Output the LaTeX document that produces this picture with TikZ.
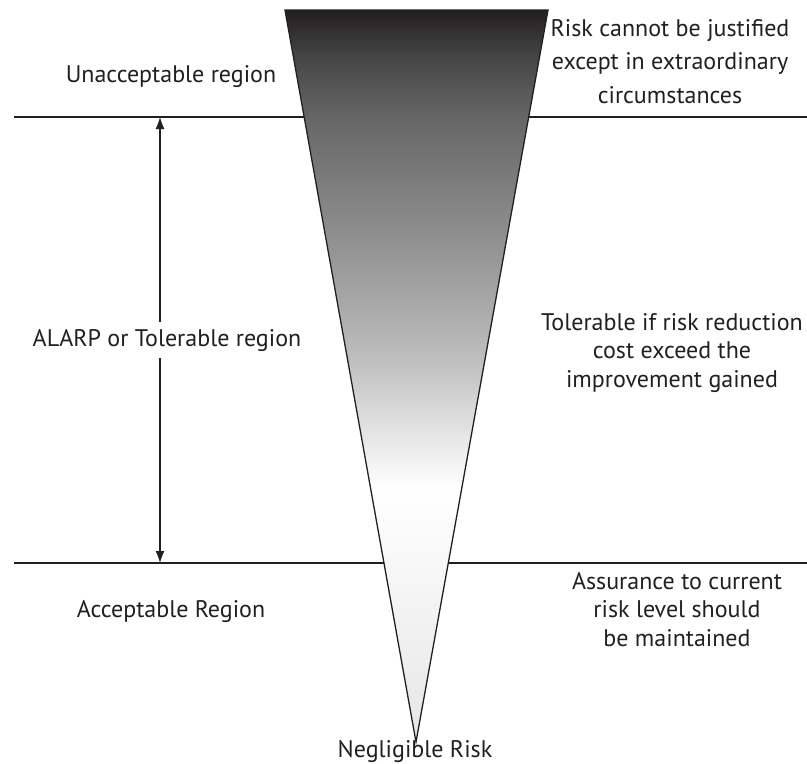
\documentclass[tikz,border=0pt]{standalone}
\usepackage{fontspec}
\setmainfont{PT Sans}
\usetikzlibrary{arrows.meta}

\definecolor{ink}{HTML}{231F20}

% vertical grey ramp for the risk wedge: light tip (25bp) up to dark top (75bp)
\pgfdeclareverticalshading{riskramp}{100bp}{%
  color(0bp)=(white!90!black);
  color(25bp)=(white!90!black);
  color(42.21bp)=(white);
  color(46.31bp)=(white!89!black);
  color(51.78bp)=(white!73!black);
  color(58.61bp)=(white!58!black);
  color(67.69bp)=(white!40!black);
  color(71.58bp)=(white!28!black);
  color(75bp)=(ink);
  color(100bp)=(ink)}

\begin{document}
\begin{tikzpicture}[x=1pt,y=-1pt,
  txt/.style={text=ink,inner sep=0pt,align=center,
    font=\fontsize{24}{33.5}\selectfont},
  txtb/.style={txt,font=\fontsize{24}{28.5}\selectfont},
  rule/.style={draw=ink,line width=1.3pt},
  dim/.style={draw=ink,line width=1.1pt,
    {Latex[length=12pt,width=9pt]}-{Latex[length=12pt,width=9pt]}}]
\useasboundingbox (0,0) rectangle (807,764);

% region boundaries
\coordinate (l1w) at (14,117);
\coordinate (l1e) at (807,117);
\coordinate (l2w) at (14,563);
\coordinate (l2e) at (807,563);
\draw[rule] (l1w) -- (l1e);
\draw[rule] (l2w) -- (l2e);

% risk wedge
\coordinate (tl) at (285,10);
\coordinate (tr) at (548,10);
\coordinate (tip) at (416,742);
\shade[shading=riskramp] (tl) -- (tr) -- (tip) -- cycle;
\draw[draw=ink,line width=1.3pt,line join=miter] (tl) -- (tr) -- (tip) -- cycle;

% extent of the ALARP band
\coordinate (atop) at (160,117);
\coordinate (abot) at (160,563);
\draw[dim] (abot) -- (atop);

% labels (base anchor = baseline of the last line)
\node[txt,anchor=base] (unacc) at (171,82) {Unacceptable region};
\node[txt,anchor=base,fill=white,inner xsep=2pt,inner ysep=7pt] (alarp) at (167,346) {ALARP or Tolerable region};
\node[txt,anchor=base] (acc) at (171,617) {Acceptable Region};
\node[txt,anchor=base] (negl) at (415,757) {Negligible Risk};

\node[txt,anchor=base] (just) at (670,103)
  {Risk cannot be justified\\except in extraordinary\\circumstances};
\node[txtb,anchor=base] (toler) at (672,387)
  {Tolerable if risk reduction\\cost exceed the\\improvement gained};
\node[txtb,anchor=base] (assur) at (677,646)
  {Assurance to current\\risk level should\\be maintained};
\end{tikzpicture}
\end{document}
